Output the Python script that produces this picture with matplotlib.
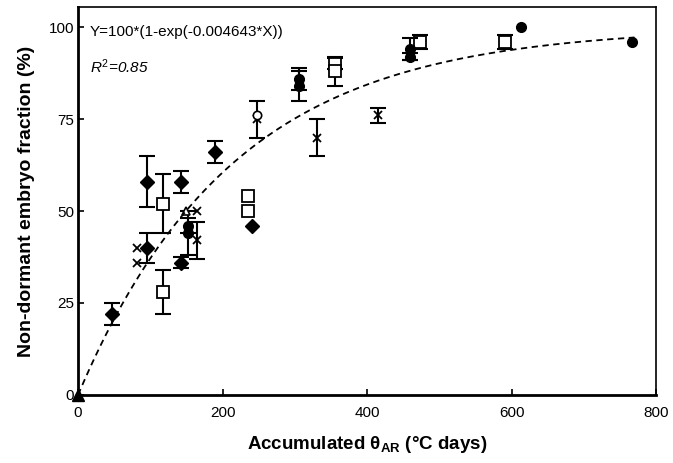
import numpy as np
import matplotlib
matplotlib.use("Agg")
import matplotlib.pyplot as plt

plt.rcParams['font.family'] = ['Liberation Sans', 'DejaVu Sans']
plt.rcParams['mathtext.fontset'] = 'custom'
plt.rcParams['mathtext.rm'] = 'Liberation Sans'
plt.rcParams['mathtext.it'] = 'Liberation Sans:italic'
plt.rcParams['mathtext.bf'] = 'Liberation Sans:bold'

# Filled diamonds
dia_x = [47, 95, 95, 143, 143, 190, 240]
dia_y = [22, 58, 40, 58, 36, 66, 46]
dia_e = [3, 7, 4, 3, 1.5, 3, 0]
# Open squares
sq_x = [117, 117, 235, 235, 355, 355, 473, 591]
sq_y = [52, 28, 54, 50, 90, 88, 96, 96]
sq_e = [8, 6, 0, 0, 1.5, 4, 2, 2]
# Filled circles
ci_x = [152, 152, 306, 306, 459, 459, 613, 766]
ci_y = [46, 44, 86, 84, 94, 92, 100, 96]
ci_e = [2, 6, 3, 4, 3, 1, 0, 0]
# Crosses
cr_x = [82, 82, 165, 165, 248, 331, 415]
cr_y = [40, 36, 50, 42, 75, 70, 76]
cr_e = [0, 0, 0, 5, 5, 5, 2]
# Open triangles / circles
tri_x = [150]
tri_y = [50]
oc_x = [248]
oc_y = [76]
# Origin point
orig_x = [0]
orig_y = [0]

k = 0.004643

fig = plt.figure(figsize=(6.73, 4.63), dpi=100)
ax = fig.add_axes([0.116, 0.147, 0.859, 0.838])

ekw = dict(fmt='none', ecolor='black', elinewidth=1.5, capsize=6, capthick=1.5)


def series(x, y, e, **mkw):
    x = np.asarray(x, float)
    y = np.asarray(y, float)
    e = np.asarray(e, float)
    m = e > 0
    ax.errorbar(x[m], y[m], yerr=e[m], **ekw)
    ax.plot(x, y, linestyle='none', **mkw)


series(dia_x, dia_y, dia_e, marker='D', mfc='black', mec='black', ms=7)
series(sq_x, sq_y, sq_e, marker='s', mfc='white', mec='black', mew=1.3, ms=8)
series(ci_x, ci_y, ci_e, marker='o', mfc='black', mec='black', ms=7)
series(cr_x, cr_y, cr_e, marker='x', mfc='black', mec='black', mew=1.3, ms=6)
ax.plot(tri_x, tri_y, '^', mfc='white', mec='black', ms=6, mew=1.2, linestyle='none')
ax.plot(oc_x, oc_y, 'o', mfc='white', mec='black', ms=6, mew=1.2, linestyle='none')
ax.plot(orig_x, orig_y, '^', color='black', ms=8, clip_on=False, zorder=5)

xs = np.linspace(0, 770, 300)
ax.plot(xs, 100 * (1 - np.exp(-k * xs)), '--', color='black', lw=1.3, dashes=(3.5, 2.5))

ax.set_xlim(0, 800)
ax.set_ylim(0, 105.5)
ax.set_xticks([0, 200, 400, 600, 800])
ax.set_yticks([0, 25, 50, 75, 100])
ax.tick_params(direction='in', length=4, width=1.2, labelsize=11)
ax.tick_params(axis='x', pad=8)
ax.tick_params(axis='y', pad=3)
for side in ['left', 'bottom']:
    ax.spines[side].set_linewidth(2)
for side in ['top', 'right']:
    ax.spines[side].set_linewidth(1.2)

ax.set_xlabel(r'Accumulated θ$_{\mathbf{AR}}$ (°C days)', fontsize=13.5, fontweight='bold', labelpad=10)
ax.set_ylabel('Non-dormant embryo fraction (%)', fontsize=14, fontweight='bold', labelpad=10)

ax.text(0.02, 0.935, 'Y=100*(1-exp(-0.004643*X))', transform=ax.transAxes, fontsize=11, va='center')
ax.text(0.02, 0.845, r'$R^2$=0.85', transform=ax.transAxes, fontsize=11, va='center', style='italic')

fig.savefig('out.png', dpi=100)
